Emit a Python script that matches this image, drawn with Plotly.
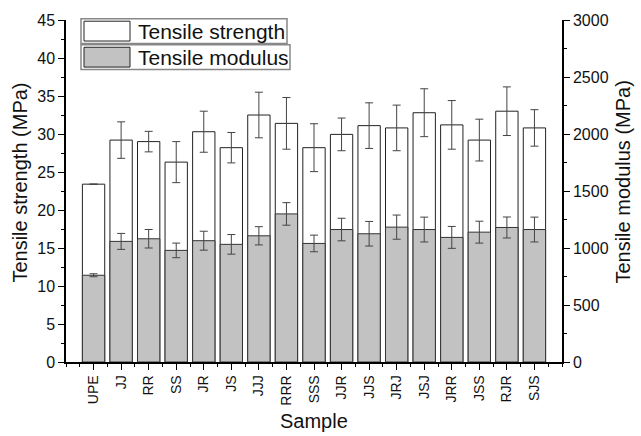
import plotly.graph_objects as go

samples = ["UPE", "JJ", "RR", "SS", "JR", "JS", "JJJ", "RRR", "SSS",
           "JJR", "JJS", "JRJ", "JSJ", "JRR", "JSS", "RJR", "SJS"]
strength = [23.4, 29.2, 29.0, 26.3, 30.3, 28.2, 32.5, 31.4, 28.2,
            29.95, 31.1, 30.8, 32.8, 31.2, 29.2, 33.0, 30.8]
strength_err = [0.0, 2.4, 1.35, 2.7, 2.7, 2.0, 3.0, 3.4, 3.15,
                2.15, 3.0, 3.0, 3.15, 3.2, 2.75, 3.2, 2.4]
modulus = [761, 1058, 1081, 979, 1064, 1032, 1107, 1299, 1040,
           1162, 1125, 1183, 1162, 1093, 1139, 1180, 1162]
modulus_err = [13, 70, 81, 64, 83, 86, 80, 99, 73,
               99, 108, 106, 109, 96, 96, 92, 109]

xpos = list(range(len(samples)))
FONT = "Liberation Sans, Arial, sans-serif"

fig = go.Figure()
fig.add_trace(go.Bar(
    x=xpos, y=strength, width=0.81, yaxis="y",
    marker=dict(color="white", line=dict(color="#222", width=1)),
    error_y=dict(type="data", array=strength_err, color="#444", thickness=1, width=4),
    name="Tensile strength", showlegend=False,
))
fig.add_trace(go.Bar(
    x=xpos, y=modulus, width=0.81, yaxis="y2",
    marker=dict(color="#c2c2c2", line=dict(color="#333", width=1)),
    error_y=dict(type="data", array=modulus_err, color="#444", thickness=1, width=4),
    name="Tensile modulus", showlegend=False,
))

axis_common = dict(
    showline=True, linecolor="black", linewidth=1.5, ticks="outside",
    ticklen=6, tickwidth=1.2, tickcolor="black", showgrid=False, zeroline=False,
)

fig.update_layout(
    width=641, height=436,
    margin=dict(l=66, r=79, t=17, b=74),
    plot_bgcolor="white", paper_bgcolor="white",
    barmode="overlay",
    showlegend=False,
    xaxis=dict(
        **axis_common, range=[-1, 17], tickvals=xpos, ticktext=samples,
        tickangle=-90, tickfont=dict(family=FONT, size=14, color="#111"),
        minor=dict(ticks="outside", dtick=0.5, tick0=0, ticklen=3, tickcolor="black"),
    ),
    yaxis=dict(
        **axis_common, range=[0, 45], dtick=5,
        tickfont=dict(family=FONT, size=16, color="#111"),
        minor=dict(ticks="outside", dtick=2.5, ticklen=3, tickcolor="black"),
    ),
    yaxis2=dict(
        **axis_common, range=[0, 3000], dtick=500, overlaying="y", side="right",
        tickfont=dict(family=FONT, size=16, color="#111"),
        minor=dict(ticks="outside", dtick=250, ticklen=3, tickcolor="black"),
    ),
)

W, H = 641, 436
pl, pr, pt, pb = 66, 79, 17, 74
pw, ph = W - pl - pr, H - pt - pb

def px(x):
    return (x - pl) / pw

def py(y):
    return (H - pb - y) / ph

TITLE_FONT = dict(family=FONT, size=20, color="#111")
fig.add_annotation(xref="paper", yref="paper", x=px(20), y=py(181), text="Tensile strength (MPa)",
                   textangle=-90, showarrow=False, xanchor="center", yanchor="middle", font=TITLE_FONT)
fig.add_annotation(xref="paper", yref="paper", x=px(623), y=py(181), text="Tensile modulus (MPa)",
                   textangle=-90, showarrow=False, xanchor="center", yanchor="middle", font=TITLE_FONT)
fig.add_annotation(xref="paper", yref="paper", x=px(314), y=py(422), text="Sample",
                   showarrow=False, xanchor="center", yanchor="middle", font=TITLE_FONT)

# Manual legend (frames, swatches and labels)
legend_items = [("Tensile strength", "white", 15.7, 40.7, 287),
                ("Tensile modulus", "#c2c2c2", 42, 67, 290)]
for label, color, y0, y1, xr in legend_items:
    fig.add_shape(type="rect", xref="paper", yref="paper",
                  x0=px(81), x1=px(xr), y0=py(y1), y1=py(y0),
                  line=dict(color="#888", width=1.5), fillcolor="white")
    fig.add_shape(type="rect", xref="paper", yref="paper",
                  x0=px(84), x1=px(130), y0=py(y1 - 2.5), y1=py(y0 + 2.5),
                  line=dict(color="#222", width=1), fillcolor=color)
    fig.add_annotation(xref="paper", yref="paper", x=px(136), y=py((y0 + y1) / 2),
                       text=label, showarrow=False, xanchor="left", yanchor="middle",
                       font=dict(family=FONT, size=21, color="#111"))

fig.write_html("out.html")
